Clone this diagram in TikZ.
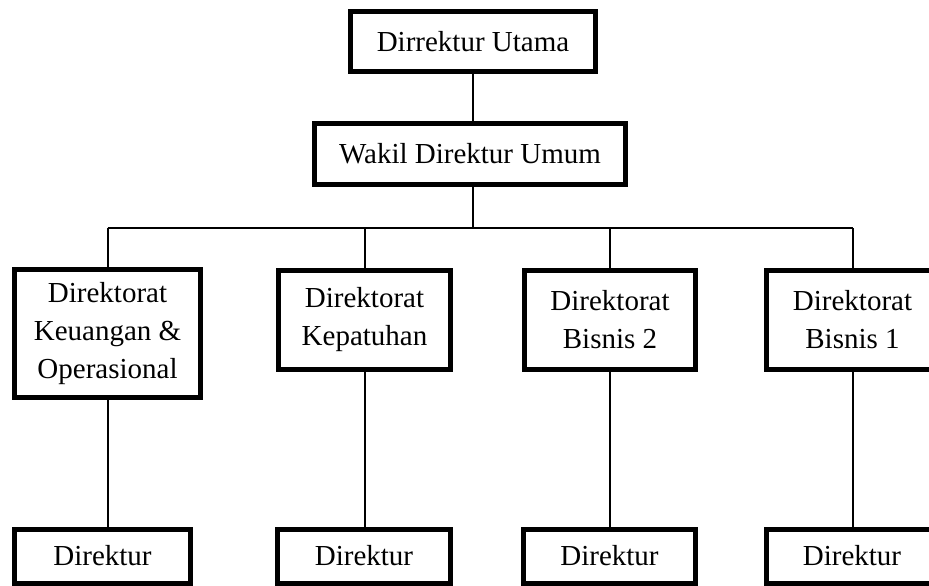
\documentclass[tikz,border=0pt]{standalone}
\usepackage{fontspec}
\setmainfont{Liberation Serif}
\begin{document}
\begin{tikzpicture}[x=1pt,y=-1pt,
  box/.style={draw=black,line width=5pt,rectangle,inner sep=0pt,align=center,
    font=\fontsize{29}{38}\selectfont},
  conn/.style={draw=black,line width=2pt}]
\clip (0,0) rectangle (929,586);
\fill[white] (0,0) rectangle (929,586);
% top level
\node[box,minimum width=245pt,minimum height=60pt] (du) at (473,41.5) {Dirrektur Utama};
\node[box,minimum width=311pt,minimum height=61pt] (wdu) at (470,154) {Wakil Direktur Umum};
% row 2
\node[box,minimum width=186pt,minimum height=128pt] (d1) at (107.5,333.5) {Direktorat\\Keuangan \&\\Operasional};
\node[box,minimum width=172pt,minimum height=99pt] (d2) at (364.5,320) {Direktorat\\Kepatuhan};
\node[box,minimum width=171pt,minimum height=99pt] (d3) at (610,320) {Direktorat\\Bisnis 2};
\node[box,minimum width=172pt,minimum height=99pt] (d4) at (852.5,320) {Direktorat\\Bisnis 1};
% row 3
\node[box,minimum width=176pt,minimum height=54pt] (e1) at (102.5,556) {Direktur};
\node[box,minimum width=173pt,minimum height=54pt] (e2) at (364,556) {Direktur};
\node[box,minimum width=172pt,minimum height=54pt] (e3) at (609.5,556) {Direktur};
\node[box,minimum width=172pt,minimum height=54pt] (e4) at (852,556) {Direktur};
% connectors
\coordinate (bus) at (473,228);
\draw[conn] (du.south) -- (du.south |- wdu.north);
\draw[conn] (du.south |- wdu.south) -- (bus);
\draw[conn] (d1.north |- bus) -- (d4.north |- bus);
\draw[conn] (d1.north |- bus) -- (d1.north);
\draw[conn] (d2.north |- bus) -- (d2.north);
\draw[conn] (d3.north |- bus) -- (d3.north);
\draw[conn] (d4.north |- bus) -- (d4.north);
\draw[conn] (d1.south) -- (d1.south |- e1.north);
\draw[conn] (d2.south) -- (d2.south |- e2.north);
\draw[conn] (d3.south) -- (d3.south |- e3.north);
\draw[conn] (d4.south) -- (d4.south |- e4.north);
\end{tikzpicture}
\end{document}
